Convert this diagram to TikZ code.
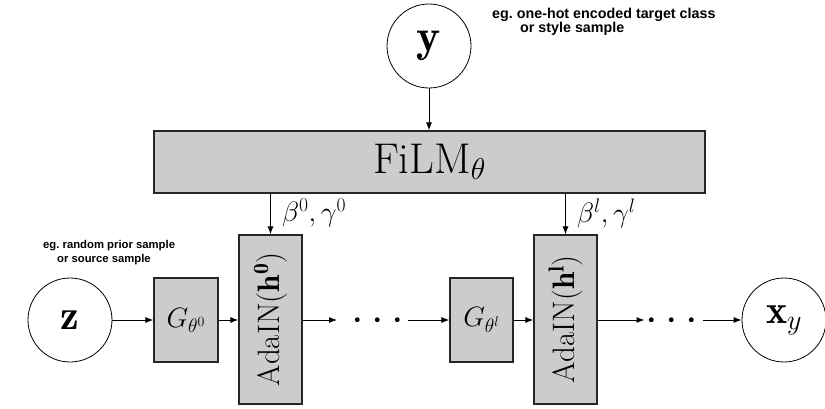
\RequirePackage{fix-cm}
\documentclass[tikz,border=0pt]{standalone}
\usepackage{fontspec}
\newfontfamily\notefont{Liberation Sans}
\usetikzlibrary{arrows.meta}
\frenchspacing

\tikzset{
  block/.style={draw=black!85, fill=gray!40, line width=1.1pt, inner sep=0pt},
  var/.style={circle, draw=black, line width=0.8pt, minimum size=84pt, inner sep=0pt},
  arr/.style={-{Latex[length=8pt,width=6pt]}, line width=1pt},
  note/.style={font=\notefont\bfseries\fontsize{11.3}{13}\selectfont, anchor=base west, inner sep=0pt},
  bignote/.style={note, font=\notefont\bfseries\fontsize{14.3}{16}\selectfont},
  param/.style={font=\fontsize{28}{32}\selectfont, anchor=west, inner sep=0pt},
  dotsnode/.style={font=\fontsize{45}{50}\selectfont, inner sep=0pt, anchor=base}
}

\begin{document}
\begin{tikzpicture}[x=1pt, y=-1pt]
\useasboundingbox (0,0) rectangle (825,409);

% conditioning input and FiLM generator
\node[var] (y) at (429,46) {\fontsize{46}{50}\selectfont$\mathbf{y}$};
\node[bignote] (ynote1) at (492,19) {eg. one-hot encoded target class};
\node[bignote] (ynote2) at (520,33) {or style sample};
\node[block, minimum width=551pt, minimum height=62pt] (film) at (429.5,162)
  {\fontsize{43}{47}\selectfont$\mathrm{FiLM}_\theta$};

% generator blocks
\node[var] (z) at (70,320) {\fontsize{42}{46}\selectfont$\mathbf{z}$};
\node[note] (znote1) at (43,248) {eg. random prior sample};
\node[note] (znote2) at (57,262) {or source sample};

\node[block, minimum width=64pt, minimum height=84pt] (g0) at (186,320)
  {\fontsize{28}{32}\selectfont$G_{\theta^0}$};
\node[block, minimum width=63pt, minimum height=169pt] (ada0) at (270.5,319.5)
  {\rotatebox{90}{\fontsize{31}{34}\selectfont$\mathrm{AdaIN}(\mathbf{h}^{\mathbf{0}})$}};
\node[dotsnode] (dots1) at (377.5,331.25) {$\cdots$};

\node[block, minimum width=63pt, minimum height=84pt] (gl) at (481.5,320)
  {\fontsize{28}{32}\selectfont$G_{\theta^l}$};
\node[block, minimum width=63pt, minimum height=169pt] (adal) at (565.5,319.5)
  {\rotatebox{90}{\fontsize{31}{34}\selectfont$\mathrm{AdaIN}(\mathbf{h}^{\mathbf{l}})$}};
\node[dotsnode] (dots2) at (672,331.25) {$\cdots$};

\node[var] (x) at (784,320) {\fontsize{40}{44}\selectfont$\mathbf{x}_y$};

% modulation parameters
\node[param] (p0) at (282,213) {$\beta^0,\gamma^0$};
\node[param] (pl) at (577,213) {$\beta^l,\gamma^l$};

% connectors
\draw[arr] (y.south) -- (y.south |- film.north);
\draw[arr] (film.south -| ada0.north) -- (ada0.north);
\draw[arr] (film.south -| adal.north) -- (adal.north);

\draw[arr] (z.east |- g0.west) -- (g0.west);
\draw[arr] (g0.east) -- (g0.east -| ada0.west);
\draw[arr, shorten >=14pt] (ada0.east |- g0.east) -- (g0.east -| dots1.west);
\draw[arr, shorten <=4pt] (gl.west -| dots1.east) -- (gl.west);
\draw[arr] (gl.east) -- (gl.east -| adal.west);
\draw[arr, shorten >=1pt] (adal.east |- gl.east) -- (gl.east -| dots2.west);
\draw[arr, shorten <=5pt] (x.west -| dots2.east) -- (x.west);
\end{tikzpicture}
\end{document}
